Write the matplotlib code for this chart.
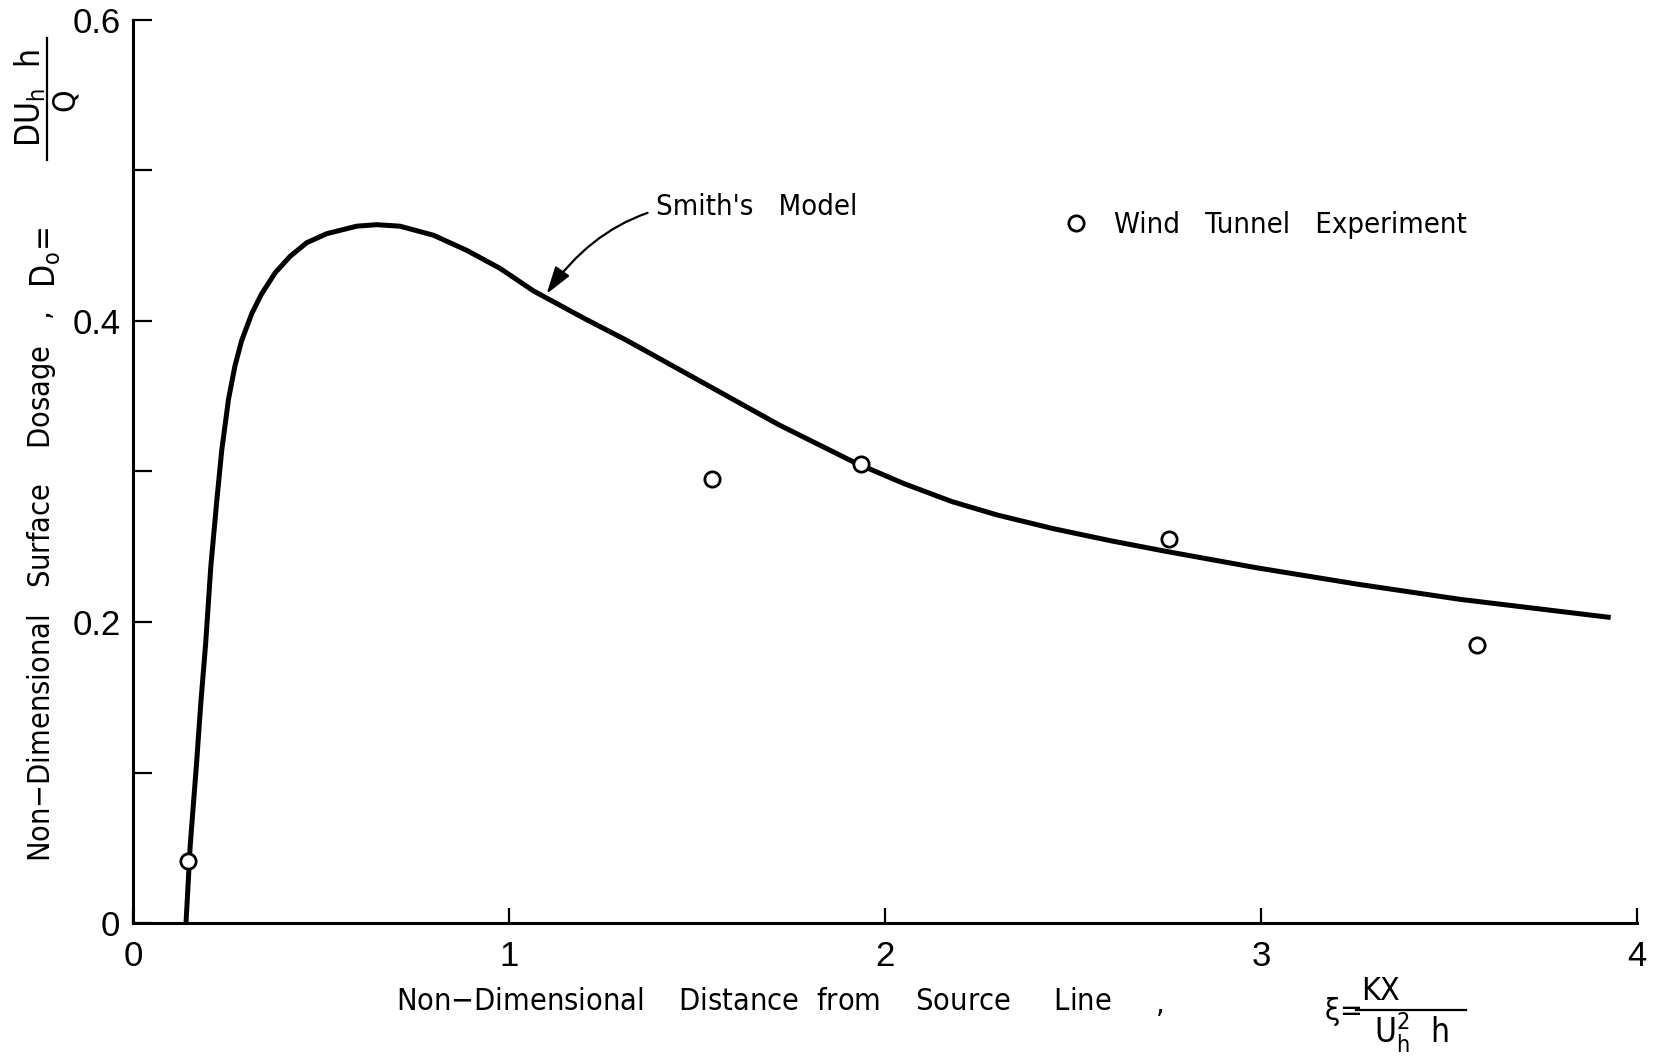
import matplotlib
matplotlib.use("Agg")
import matplotlib.pyplot as plt
from matplotlib.lines import Line2D
from matplotlib.ticker import MultipleLocator, FixedLocator, FixedFormatter

# Smith's model curve (non-dimensional distance vs. surface dosage)
xi_model = [0.141, 0.152, 0.169, 0.180, 0.193, 0.207, 0.223, 0.236, 0.254, 0.271,
            0.289, 0.316, 0.342, 0.378, 0.418, 0.462, 0.515, 0.595, 0.648, 0.710,
            0.799, 0.887, 0.976, 1.065, 1.198, 1.314, 1.516, 1.718, 1.919, 2.050,
            2.178, 2.300, 2.448, 2.600, 2.746, 2.989, 3.260, 3.531, 3.930]
dose_model = [0.000, 0.051, 0.106, 0.145, 0.185, 0.237, 0.281, 0.314, 0.348, 0.370,
              0.387, 0.405, 0.418, 0.432, 0.443, 0.452, 0.458, 0.463, 0.464, 0.463,
              0.457, 0.447, 0.435, 0.420, 0.402, 0.387, 0.359, 0.331, 0.306, 0.292,
              0.280, 0.271, 0.262, 0.254, 0.247, 0.236, 0.225, 0.215, 0.203]

# wind tunnel measurements
xi_exp = [0.146, 1.539, 1.937, 2.755, 3.574]
dose_exp = [0.041, 0.295, 0.305, 0.255, 0.185]

yticks_major = [0.0, 0.2, 0.4, 0.6]
ytick_labels = ["0", "0.2", "0.4", "0.6"]
xticks = [0, 1, 2, 3, 4]
xtick_labels = ["0", "1", "2", "3", "4"]

plt.rcParams["font.family"] = ["DejaVu Sans"]
plt.rcParams["font.stretch"] = "condensed"
plt.rcParams["mathtext.fontset"] = "dejavusans"
plt.rcParams["mathtext.default"] = "regular"

W, H = 1654, 1058
fig = plt.figure(figsize=(W / 100, H / 100), dpi=100)
ax = fig.add_axes([133 / W, 1 - 923 / H, (1637 - 133) / W, (923 - 20) / H])

ax.plot(xi_model, dose_model, color="black", lw=3.6, solid_capstyle="butt",
        solid_joinstyle="round", zorder=2)
ax.plot(xi_exp, dose_exp, linestyle="none", marker="o", ms=11, mfc="white",
        mec="black", mew=2.0, zorder=3, label="Wind   Tunnel   Experiment")

ax.set_xlim(0, 4)
ax.set_ylim(0, 0.6)

for side in ["top", "right"]:
    ax.spines[side].set_visible(False)
ax.spines["left"].set_linewidth(2.2)
ax.spines["bottom"].set_linewidth(2.2)

ax.yaxis.set_major_locator(FixedLocator(yticks_major))
ax.yaxis.set_major_formatter(FixedFormatter(ytick_labels))
ax.yaxis.set_minor_locator(MultipleLocator(0.1))
ax.xaxis.set_major_locator(FixedLocator(xticks))
ax.xaxis.set_major_formatter(FixedFormatter(xtick_labels))

ax.tick_params(axis="y", which="both", direction="in", length=14, width=1.6, pad=9,
               labelsize=25)
ax.tick_params(axis="x", which="major", direction="in", length=11, width=1.6, pad=12,
               labelsize=25)
for lab in ax.get_xticklabels() + ax.get_yticklabels():
    lab.set_family("Liberation Sans")
    lab.set_stretch("normal")

# arrow pointing from the label down onto the model curve
ax.annotate("Smith's   Model", xy=(1.10, 0.418), xytext=(1.39, 0.476),
            fontsize=21, ha="left", va="center",
            arrowprops=dict(arrowstyle="-|>,head_length=0.8,head_width=0.25",
                            connectionstyle="arc3,rad=0.32", color="black",
                            lw=1.6, shrinkA=4, shrinkB=0))

ax.legend(loc="center left", bbox_to_anchor=(0.619, 0.773), frameon=False,
          fontsize=21, handletextpad=0.9, handlelength=0.8, borderpad=0,
          borderaxespad=0)

# x axis title:  xi = KX / (U_h^2 h), lettered by hand
fig.text(396 / W, 1 - 1002 / H,
         "Non$-$Dimensional    Distance  from    Source     Line",
         fontsize=22, ha="left", va="center")
fig.text(1160 / W, 1 - 1004 / H, ",", fontsize=22, ha="center", va="center")
fig.text(1324 / W, 1 - 1011 / H, r"$\xi$=", fontsize=22, ha="left", va="center")
fig.text(1380 / W, 1 - 991 / H, "KX", fontsize=23, ha="center", va="center")
fig.add_artist(Line2D([1356 / W, 1466 / W], [1 - 1010 / H, 1 - 1010 / H],
                      color="black", lw=1.6))
fig.text(1411 / W, 1 - 1033 / H, r"$U_h^2\ \ h$", fontsize=24, ha="center", va="center")

# y axis title:  D_o = D U_h h / Q
fig.text(42 / W, 1 - 862 / H,
         "Non$-$Dimensional   Surface    Dosage   ,",
         fontsize=22, rotation=90, ha="center", va="bottom")
fig.text(46 / W, 1 - 288 / H, r"$D_o$=", fontsize=24, rotation=90,
         ha="center", va="bottom")
fig.text(30 / W, 1 - 98 / H, r"$DU_h\ \ h$", fontsize=24, rotation=90,
         ha="center", va="center")
fig.add_artist(Line2D([47 / W, 47 / W], [1 - 160 / H, 1 - 38 / H],
                      color="black", lw=1.6))
fig.text(65 / W, 1 - 100 / H, "Q", fontsize=23, rotation=90, ha="center", va="center")

fig.savefig("out.png", dpi=100)
